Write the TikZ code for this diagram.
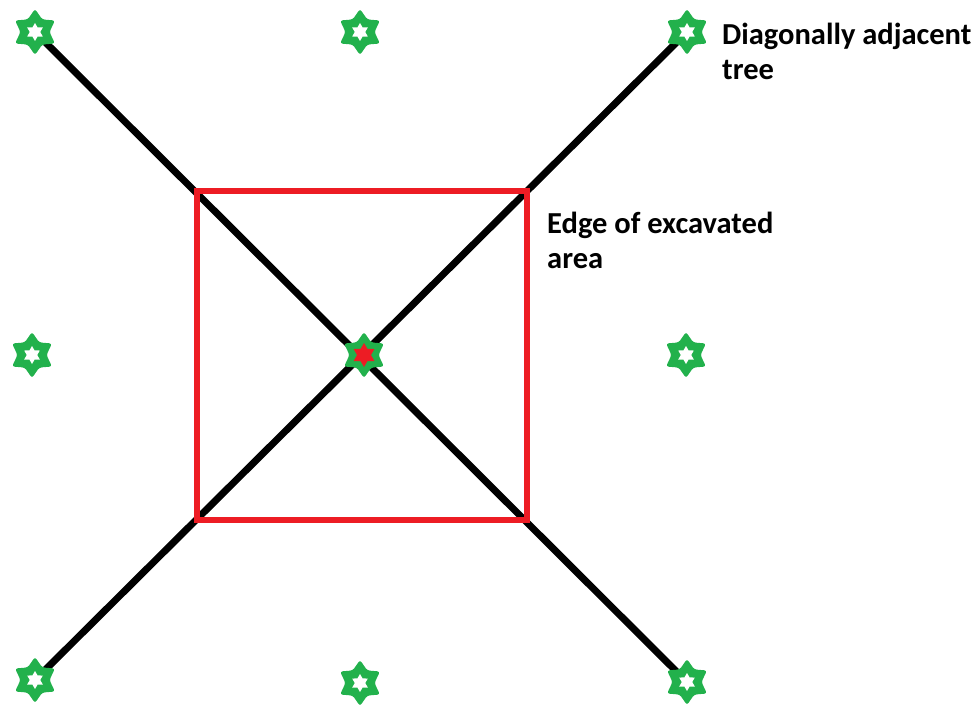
\documentclass[tikz,border=0pt]{standalone}
\usepackage{fontspec}
\setmainfont{Carlito}
\definecolor{treegreen}{RGB}{34,177,76}
\definecolor{pitred}{RGB}{237,28,36}
\tikzset{
  treestar/.pic={
    \fill[treegreen, rounded corners=2.5pt]
      (90:23) -- (120:14.5) -- (150:23) -- (180:14.5) -- (210:23) -- (240:14.5)
      -- (270:23) -- (300:14.5) -- (330:23) -- (0:14.5) -- (30:23) -- (60:14.5) -- cycle;
    \fill[\pgfkeysvalueof{/tikz/innerfill}]
      (90:\pgfkeysvalueof{/tikz/innerr}) -- (120:0.58*\pgfkeysvalueof{/tikz/innerr})
      -- (150:\pgfkeysvalueof{/tikz/innerr}) -- (180:0.58*\pgfkeysvalueof{/tikz/innerr})
      -- (210:\pgfkeysvalueof{/tikz/innerr}) -- (240:0.58*\pgfkeysvalueof{/tikz/innerr})
      -- (270:\pgfkeysvalueof{/tikz/innerr}) -- (300:0.58*\pgfkeysvalueof{/tikz/innerr})
      -- (330:\pgfkeysvalueof{/tikz/innerr}) -- (0:0.58*\pgfkeysvalueof{/tikz/innerr})
      -- (30:\pgfkeysvalueof{/tikz/innerr}) -- (60:0.58*\pgfkeysvalueof{/tikz/innerr}) -- cycle;
  },
  innerfill/.initial=white,
  innerr/.initial=9,
  diag/.style={line width=7pt, black},
  edge/.style={line width=6pt, pitred, line join=miter},
  label/.style={anchor=base west, inner sep=0pt, align=left, font=\fontsize{30.5}{35}\selectfont\bfseries}
}
\begin{document}
\begin{tikzpicture}[x=1pt,y=-1pt]
\useasboundingbox (0,0) rectangle (979,706);
\coordinate (tl) at (35,32);
\coordinate (tm) at (360,32);
\coordinate (tr) at (687,32);
\coordinate (ml) at (32,355);
\coordinate (c) at (364,355);
\coordinate (mr) at (686,355);
\coordinate (bl) at (35,680);
\coordinate (bm) at (360,683);
\coordinate (br) at (687,682);
\draw[diag] (tl) -- (br);
\draw[diag] (tr) -- (bl);
\draw[edge] (197,191) rectangle (527,520);
\foreach \p in {tl,tm,tr,ml,mr,bl,bm,br} \pic at (\p) {treestar};
\pic[innerfill=pitred, innerr=12] at (c) {treestar};
\node[label] (t1) at (722,80) {Diagonally adjacent\\tree};
\node[label] (t2) at (547,268) {Edge of excavated\\area};
\end{tikzpicture}
\end{document}
